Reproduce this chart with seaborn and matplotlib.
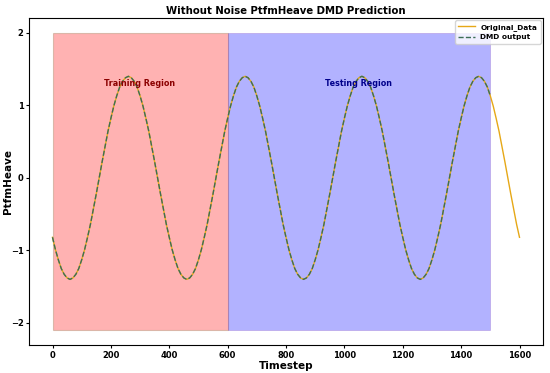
import matplotlib
matplotlib.use("Agg")
import matplotlib.pyplot as plt
import seaborn as sns
import pandas as pd

# ---- data ----
timesteps = list(range(0, 1601, 10))
original_values = [
    -0.82, -0.99, -1.13, -1.25, -1.33, -1.38, -1.40, -1.38, -1.33, -1.25,
    -1.13, -0.99, -0.82, -0.64, -0.43, -0.22, 0.00, 0.22, 0.43, 0.64,
    0.82, 0.99, 1.13, 1.25, 1.33, 1.38,
    1.40, 1.38, 1.33, 1.25, 1.13, 0.99, 0.82, 0.64, 0.43, 0.22,
    0.00, -0.22, -0.43, -0.64, -0.82, -0.99, -1.13, -1.25, -1.33, -1.38,
    -1.40, -1.38, -1.33, -1.25, -1.13, -0.99, -0.82, -0.64, -0.43, -0.22,
    0.00, 0.22, 0.43, 0.64, 0.82, 0.99, 1.13, 1.25, 1.33, 1.38,
    1.40, 1.38, 1.33, 1.25, 1.13, 0.99, 0.82, 0.64, 0.43, 0.22,
    0.00, -0.22, -0.43, -0.64, -0.82, -0.99, -1.13, -1.25, -1.33, -1.38,
    -1.40, -1.38, -1.33, -1.25, -1.13, -0.99, -0.82, -0.64, -0.43, -0.22,
    0.00, 0.22, 0.43, 0.64, 0.82, 0.99, 1.13, 1.25, 1.33, 1.38,
    1.40, 1.38, 1.33, 1.25, 1.13, 0.99, 0.82, 0.64, 0.43, 0.22,
    0.00, -0.22, -0.43, -0.64, -0.82, -0.99, -1.13, -1.25, -1.33, -1.38,
    -1.40, -1.38, -1.33, -1.25, -1.13, -0.99, -0.82, -0.64, -0.43, -0.22,
    0.00, 0.22, 0.43, 0.64, 0.82, 0.99, 1.13, 1.25, 1.33, 1.38,
    1.40, 1.38, 1.33, 1.25, 1.13, 0.99, 0.82, 0.64, 0.43, 0.22,
    0.00, -0.22, -0.43, -0.64, -0.82,
]
dmd_timesteps = timesteps[:151]
dmd_values = original_values[:151]

train_region = [0, 600]
test_region = [600, 1500]
region_low, region_high = -2.1, 2.0
region_labels = ["Training Region", "Testing Region"]
label_positions = [(300, 1.3), (1050, 1.3)]

orig_df = pd.DataFrame({"Timestep": timesteps, "PtfmHeave": original_values})
dmd_df = pd.DataFrame({"Timestep": dmd_timesteps, "PtfmHeave": dmd_values})

fig = plt.figure(figsize=(5.5, 3.73), dpi=100)
ax = fig.add_axes([0.053, 0.075, 0.934, 0.877])

ax.fill_between(train_region, region_low, region_high, facecolor="red", alpha=0.3,
                edgecolor="#8a6a3a", linewidth=0.8)
ax.fill_between(test_region, region_low, region_high, facecolor="blue", alpha=0.3,
                edgecolor="#7a40c0", linewidth=0.6)

sns.lineplot(data=orig_df, x="Timestep", y="PtfmHeave", ax=ax, color="#e6a817",
             linewidth=1.0, label="Original_Data")
sns.lineplot(data=dmd_df, x="Timestep", y="PtfmHeave", ax=ax, color="#3c6e55",
             linewidth=1.0, linestyle="--", label="DMD output")

ax.text(label_positions[0][0], label_positions[0][1], region_labels[0], color="darkred",
        fontsize=5.8, fontweight="bold", ha="center", va="center")
ax.text(label_positions[1][0], label_positions[1][1], region_labels[1], color="darkblue",
        fontsize=5.8, fontweight="bold", ha="center", va="center")

ax.set_title("Without Noise PtfmHeave DMD Prediction", fontsize=7.3, fontweight="bold", pad=3)
ax.set_xlabel("Timestep", fontsize=7.5, fontweight="bold", labelpad=1)
ax.set_ylabel("PtfmHeave", fontsize=7.5, fontweight="bold")
ax.yaxis.set_label_coords(-0.031, 0.5)
ax.set_xticks([0, 200, 400, 600, 800, 1000, 1200, 1400, 1600])
ax.set_yticks([-2, -1, 0, 1, 2])
ax.tick_params(labelsize=6, length=2, pad=2)
for lbl in ax.get_xticklabels() + ax.get_yticklabels():
    lbl.set_fontweight("bold")

leg = ax.legend(loc="upper right", prop={"weight": "bold", "size": 5.3},
                handlelength=2.2, borderpad=0.45, labelspacing=0.5,
                borderaxespad=0.3)

fig.savefig("out.png", dpi=100)
